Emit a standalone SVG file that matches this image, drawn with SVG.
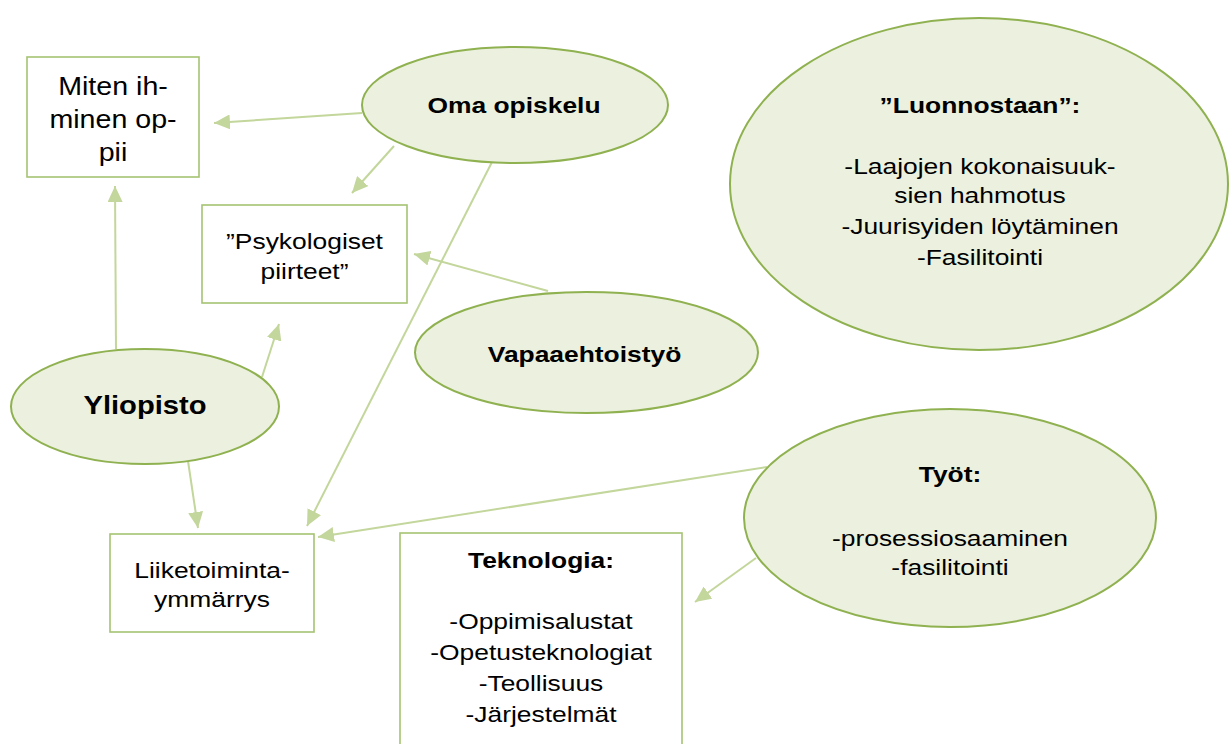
<svg xmlns="http://www.w3.org/2000/svg" width="1229" height="744" viewBox="0 0 1229 744">
<defs>
<style>
.box{fill:#ffffff;stroke:#a6c472;stroke-width:1.6}
.ell{fill:#ebf1de;stroke:#8fb150;stroke-width:2}
.con{stroke:#c3d69b;stroke-width:2;fill:none;marker-end:url(#ah)}
text{font-family:"Liberation Sans",Arial,sans-serif;fill:#000;text-anchor:middle}
.r22{font-size:22px}
.b22{font-size:22px;font-weight:bold}
.r26{font-size:26px}
.b26{font-size:26.5px;font-weight:bold}
</style>
<marker id="ah" markerUnits="userSpaceOnUse" markerWidth="17" markerHeight="15" refX="16" refY="7.5" orient="auto">
<path d="M0,0 L16,7.5 L0,15 z" fill="#c3d69b"/>
</marker>
</defs>
<rect width="1229" height="744" fill="#ffffff"/>
<g id="connectors">
<path class="con" d="M362,113 L214,123"/>
<path class="con" d="M394,146 L352,193"/>
<path class="con" d="M492,162 L307,526"/>
<path class="con" d="M548,291 L414,254"/>
<path class="con" d="M116,349 L115,186"/>
<path class="con" d="M262,377 L279,324"/>
<path class="con" d="M188,461 L198,528"/>
<path class="con" d="M767,467 L318,537"/>
<path class="con" d="M756,558 L695,602"/>
</g>
<g id="miten">
<rect class="box" x="27" y="57" width="172" height="120"/>
<text class="r26" transform="translate(113,0) scale(1.1,1)"><tspan x="0" y="95">Miten ih-</tspan><tspan x="0" y="128">minen op-</tspan><tspan x="0" y="161">pii</tspan></text>
</g>
<g id="psykologiset">
<rect class="box" x="202" y="205" width="205" height="98"/>
<text class="r22" transform="translate(304.5,0) scale(1.2,1)"><tspan x="0" y="249">”Psykologiset</tspan><tspan x="0" y="279">piirteet”</tspan></text>
</g>
<g id="oma">
<ellipse class="ell" cx="515" cy="105" rx="153" ry="58"/>
<text class="b22" transform="translate(514,0) scale(1.2,1)"><tspan x="0" y="113">Oma opiskelu</tspan></text>
</g>
<g id="vapaaehtoistyo">
<ellipse class="ell" cx="586.5" cy="352.5" rx="171.5" ry="60.5"/>
<text class="b22" transform="translate(584.5,0) scale(1.2,1)"><tspan x="0" y="362">Vapaaehtoistyö</tspan></text>
</g>
<g id="yliopisto">
<ellipse class="ell" cx="145" cy="406.5" rx="134" ry="57.5"/>
<text class="b26" transform="translate(145,0) scale(1.1,1)"><tspan x="0" y="414">Yliopisto</tspan></text>
</g>
<g id="liiketoiminta">
<rect class="box" x="110" y="534" width="204" height="98"/>
<text class="r22" transform="translate(212,0) scale(1.2,1)"><tspan x="0" y="578">Liiketoiminta-</tspan><tspan x="0" y="607">ymmärrys</tspan></text>
</g>
<g id="teknologia">
<rect class="box" x="400" y="533" width="282" height="230"/>
<text class="r22" transform="translate(541,0) scale(1.2,1)"><tspan x="0" y="568" font-weight="bold">Teknologia:</tspan><tspan x="0" y="629">-Oppimisalustat</tspan><tspan x="0" y="660">-Opetusteknologiat</tspan><tspan x="0" y="691">-Teollisuus</tspan><tspan x="0" y="722">-Järjestelmät</tspan></text>
</g>
<g id="luonnostaan">
<ellipse class="ell" cx="979" cy="184" rx="249" ry="166"/>
<text class="r22" transform="translate(980,0) scale(1.2,1)"><tspan x="0" y="113" font-weight="bold">”Luonnostaan”:</tspan><tspan x="0" y="174">-Laajojen kokonaisuuk-</tspan><tspan x="0" y="203">sien hahmotus</tspan><tspan x="0" y="234">-Juurisyiden löytäminen</tspan><tspan x="0" y="265">-Fasilitointi</tspan></text>
</g>
<g id="tyot">
<ellipse class="ell" cx="950" cy="518" rx="206" ry="109"/>
<text class="r22" transform="translate(950,0) scale(1.2,1)"><tspan x="0" y="482" font-weight="bold">Työt:</tspan><tspan x="0" y="546">-prosessiosaaminen</tspan><tspan x="0" y="575">-fasilitointi</tspan></text>
</g>
</svg>
